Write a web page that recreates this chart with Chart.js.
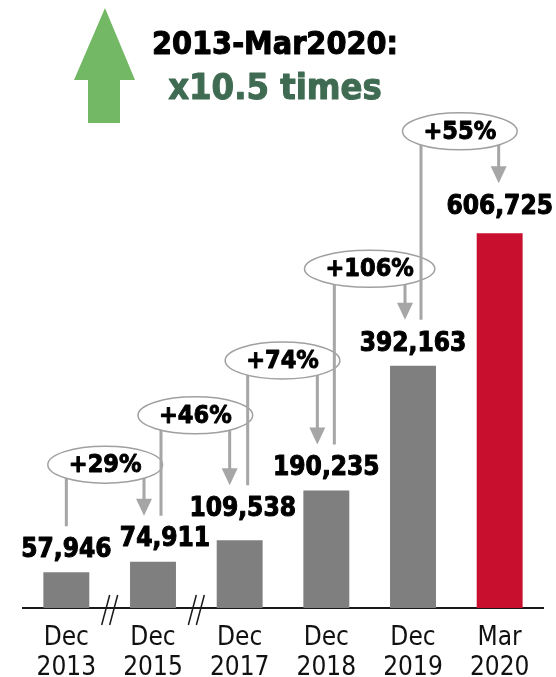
<!DOCTYPE html>
<html>
<head>
<meta charset="utf-8">
<script src="https://cdn.jsdelivr.net/npm/chart.js@4.4.1/dist/chart.umd.min.js"></script>
<style>
  html, body { margin: 0; padding: 0; background: #fff; }
  canvas { display: block; }
</style>
</head>
<body>
<canvas id="chart" width="556" height="677"></canvas>
<script>
const categories = [['Dec', '2013'], ['Dec', '2015'], ['Dec', '2017'], ['Dec', '2018'], ['Dec', '2019'], ['Mar', '2020']];
const totals = [57946, 74911, 109538, 190235, 392163, 606725];
const growth = ['+29%', '+46%', '+74%', '+106%', '+55%'];
const headline = ['2013-Mar2020:', 'x10.5 times'];
const breaksAfter = [0, 1]; // axis is broken after these categories

const FONT = '"DejaVu Sans Condensed", "DejaVu Sans", Verdana, sans-serif';
const GREY = '#7F7F7F';
const RED = '#C8102E';
const NOTE_GREY = '#A6A6A6';

// small nudges so labels don't collide, like in the original slide
const labelNudge = [[0, 0], [12, 0], [3, -9], [0, 0], [0, 0], [0, -4]];
// x offset of the start line / arrow from the bar centres, and how high the bubble sits over the arrow tip
const noteLayout = [
  { from: 0, to: -9, rise: 51 },
  { from: 8, to: -10, rise: 70 },
  { from: 8, to: -9, rise: 84 },
  { from: 8, to: -8, rise: 51 },
  { from: 8, to: -1, rise: 52 }
];

const barColors = totals.map((v, i) => (i === totals.length - 1 ? RED : GREY));

// the slide font is a heavy bold, so thicken the glyphs a bit
function heavyText(ctx, txt, x, y, color, weight) {
  ctx.fillStyle = color;
  ctx.strokeStyle = color;
  ctx.lineWidth = weight;
  ctx.lineJoin = 'round';
  ctx.strokeText(txt, x, y);
  ctx.fillText(txt, x, y);
}

const overlay = {
  id: 'overlay',
  afterDatasetsDraw(chart) {
    const ctx = chart.ctx;
    const bars = chart.getDatasetMeta(0).data;
    const axisY = chart.chartArea.bottom;
    const labelY = bars.map((b, i) => b.y - 22 + labelNudge[i][1]);

    ctx.save();

    // axis breaks
    ctx.strokeStyle = '#1a1a1a';
    ctx.lineWidth = 1.5;
    breaksAfter.forEach((i) => {
      const x = (bars[i].x + bars[i + 1].x) / 2;
      [-4, 4].forEach((d) => {
        ctx.beginPath();
        ctx.moveTo(x + d + 4, axisY - 13);
        ctx.lineTo(x + d - 4, axisY + 17);
        ctx.stroke();
      });
    });

    // value labels
    ctx.font = 'bold 26px ' + FONT;
    ctx.textAlign = 'center';
    ctx.textBaseline = 'middle';
    bars.forEach((b, i) => {
      heavyText(ctx, totals[i].toLocaleString('en-US'), b.x + labelNudge[i][0], labelY[i], '#000', 1);
    });

    // growth bubbles with arrows
    growth.forEach((txt, i) => {
      const L = noteLayout[i];
      const x1 = bars[i].x + L.from;
      const y1 = labelY[i] - 24;
      const x2 = bars[i + 1].x + L.to;
      const y2 = labelY[i + 1] - 24;
      const cx = (x1 + x2) / 2;
      const cy = y2 - L.rise;

      ctx.strokeStyle = NOTE_GREY;
      ctx.lineWidth = 3;
      ctx.beginPath();
      ctx.moveTo(x1, cy);
      ctx.lineTo(x1, y1);
      ctx.moveTo(x2, cy);
      ctx.lineTo(x2, y2 - 15);
      ctx.stroke();

      ctx.fillStyle = NOTE_GREY;
      ctx.beginPath();
      ctx.moveTo(x2 - 8, y2 - 17);
      ctx.lineTo(x2 + 8, y2 - 17);
      ctx.lineTo(x2, y2);
      ctx.closePath();
      ctx.fill();

      ctx.font = 'bold 25px ' + FONT;
      const w = ctx.measureText(txt).width;
      ctx.beginPath();
      ctx.ellipse(cx, cy, w / 2 + 21, 18.5, 0, 0, Math.PI * 2);
      ctx.fillStyle = '#fff';
      ctx.fill();
      ctx.lineWidth = 1.5;
      ctx.strokeStyle = '#A0A0A0';
      ctx.stroke();
      heavyText(ctx, txt, cx, cy + 1, '#000', 0.9);
    });

    // headline: green arrow and text
    ctx.fillStyle = '#72B865';
    ctx.beginPath();
    ctx.moveTo(105, 8);
    ctx.lineTo(135, 80);
    ctx.lineTo(120, 80);
    ctx.lineTo(120, 123);
    ctx.lineTo(88, 123);
    ctx.lineTo(88, 80);
    ctx.lineTo(74, 80);
    ctx.closePath();
    ctx.fill();

    ctx.font = 'bold 32px ' + FONT;
    heavyText(ctx, headline[0], 275, 46, '#000', 1);
    ctx.font = 'bold 36px ' + FONT;
    heavyText(ctx, headline[1], 275, 90, '#3F6B52', 1);

    ctx.restore();
  }
};

new Chart(document.getElementById('chart'), {
  type: 'bar',
  data: {
    labels: categories,
    datasets: [{
      data: totals,
      backgroundColor: barColors,
      barPercentage: 0.53,
      categoryPercentage: 1
    }]
  },
  options: {
    responsive: false,
    animation: false,
    devicePixelRatio: 1,
    layout: { padding: { top: 114, left: 23, right: 13, bottom: 0 } },
    plugins: {
      legend: { display: false },
      tooltip: { enabled: false }
    },
    scales: {
      x: {
        grid: { display: false, drawTicks: false },
        border: { display: true, color: '#1a1a1a', width: 2 },
        ticks: {
          color: '#111',
          padding: 15,
          font: { family: FONT, size: 26, lineHeight: 1.15 }
        },
        afterFit(scale) { scale.height = 69; }
      },
      y: { display: false, min: 0, max: 800000 }
    }
  },
  plugins: [overlay]
});
</script>
</body>
</html>
